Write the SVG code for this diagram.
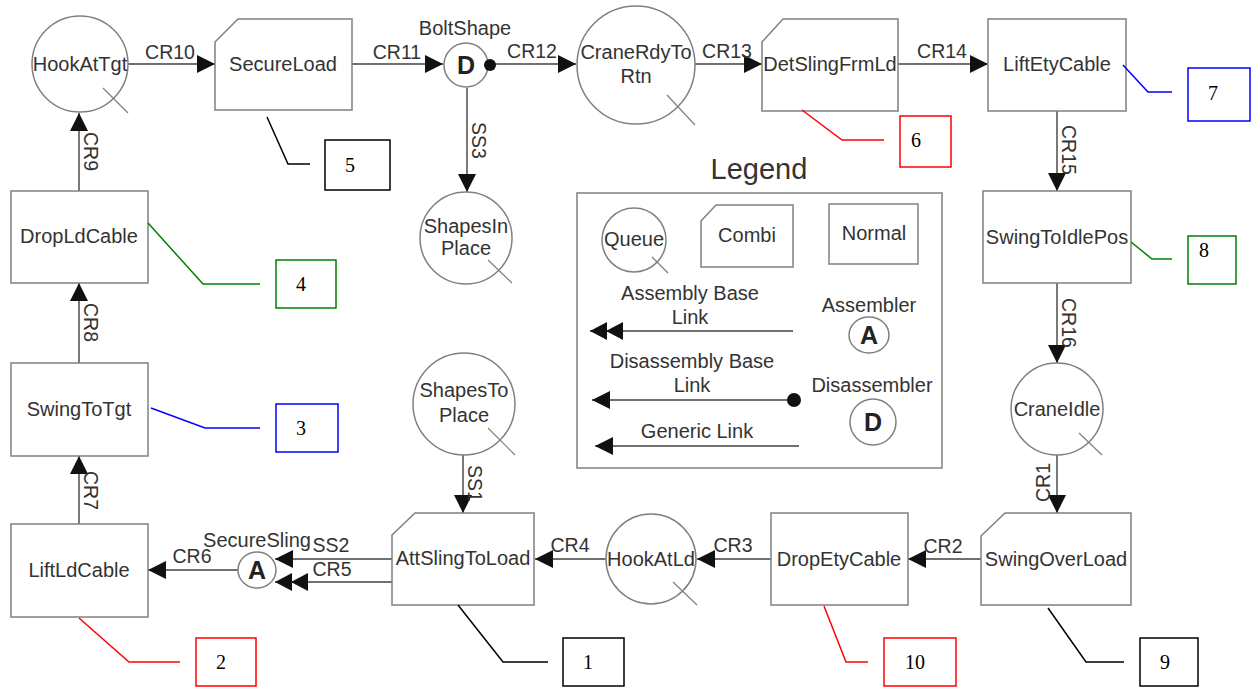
<svg xmlns="http://www.w3.org/2000/svg" width="1252" height="687" viewBox="0 0 1252 687">
<style>
.nd{fill:#fff;stroke:#808080;stroke-width:1.5}
.tk{stroke:#808080;stroke-width:1.2;fill:none}
.t{font-family:"Liberation Sans",Arial,sans-serif;font-size:20px;fill:#333;text-anchor:middle}
.el{font-family:"Liberation Sans",Arial,sans-serif;font-size:19.5px;fill:#333;text-anchor:middle}
.vl{font-family:"Liberation Sans",Arial,sans-serif;font-size:19.5px;fill:#333;text-anchor:start}
.b{font-family:"Liberation Sans",Arial,sans-serif;font-size:25px;font-weight:bold;fill:#222;text-anchor:middle}
.c{fill:none;stroke:#404040;stroke-width:1.4}
.ca{fill:none;stroke-width:1.5}
.num{font-family:"Liberation Serif","Times New Roman",serif;font-size:20px;fill:#000;text-anchor:middle}
</style>
<defs>
<marker id="arr" markerUnits="userSpaceOnUse" viewBox="0 0 18 18" refX="18" refY="9" markerWidth="18" markerHeight="18" orient="auto">
<path d="M0,0 L18,9 L0,18 Z" fill="#111"/>
</marker>
<marker id="arr2" markerUnits="userSpaceOnUse" viewBox="0 0 33 18" refX="33" refY="9" markerWidth="33" markerHeight="18" orient="auto">
<path d="M0,0 L17,9 L0,18 Z M16,0 L33,9 L16,18 Z" fill="#111"/>
</marker>
</defs>
<rect width="1252" height="687" fill="#fff"/>

<g id="connectors">
<path class="c" d="M128,64 L215,64" marker-end="url(#arr)"/>
<path class="c" d="M352,64 L443,64" marker-end="url(#arr)"/>
<path class="c" d="M488,64 L576,64" marker-end="url(#arr)"/>
<path class="c" d="M695,64 L762,64" marker-end="url(#arr)"/>
<path class="c" d="M898,64 L988,64" marker-end="url(#arr)"/>
<path class="c" d="M1057,111 L1057,191" marker-end="url(#arr)"/>
<path class="c" d="M1057,283 L1057,363" marker-end="url(#arr)"/>
<path class="c" d="M1057,455 L1057,513" marker-end="url(#arr)"/>
<path class="c" d="M981,559 L908,559" marker-end="url(#arr)"/>
<path class="c" d="M771,559 L697,559" marker-end="url(#arr)"/>
<path class="c" d="M606,559 L535,559" marker-end="url(#arr)"/>
<path class="c" d="M463,455 L463,513" marker-end="url(#arr)"/>
<path class="c" d="M392,559 L275,559" marker-end="url(#arr)"/>
<path class="c" d="M392,582 L275,582" marker-end="url(#arr2)"/>
<path class="c" d="M238,570 L148,570" marker-end="url(#arr)"/>
<path class="c" d="M79,524 L79,456" marker-end="url(#arr)"/>
<path class="c" d="M79,363 L79,283" marker-end="url(#arr)"/>
<path class="c" d="M79,191 L79,113" marker-end="url(#arr)"/>
<path class="c" d="M467,88 L467,192" marker-end="url(#arr)"/>
<text class="el" x="170" y="59">CR10</text>
<text class="el" x="397" y="59">CR11</text>
<text class="el" x="532" y="58">CR12</text>
<text class="el" x="727" y="58">CR13</text>
<text class="el" x="942" y="58">CR14</text>
<text class="el" x="943" y="553">CR2</text>
<text class="el" x="733" y="552">CR3</text>
<text class="el" x="570" y="552">CR4</text>
<text class="el" x="332" y="576">CR5</text>
<text class="el" x="331" y="552">SS2</text>
<text class="el" x="192" y="563">CR6</text>
<text class="vl" transform="translate(84,132) rotate(90)">CR9</text>
<text class="vl" transform="translate(84,303) rotate(90)">CR8</text>
<text class="vl" transform="translate(84,471) rotate(90)">CR7</text>
<text class="vl" transform="translate(1062,125) rotate(90)">CR15</text>
<text class="vl" transform="translate(1062,298) rotate(90)">CR16</text>
<text class="vl" transform="translate(1050,502) rotate(-90)">CR1</text>
<text class="vl" transform="translate(472,122) rotate(90)">SS3</text>
<text class="vl" transform="translate(468,465) rotate(90)">SS1</text>
</g>

<g id="HookAtTgt">
<circle class="nd" cx="80" cy="64" r="48"/>
<line class="tk" x1="103" y1="88" x2="128" y2="113"/>
<text class="t" x="80" y="71">HookAtTgt</text>
</g>
<g id="SecureLoad">
<path class="nd" d="M215,42 L238,19 L352,19 L352,110 L215,110 Z"/>
<text class="t" x="283" y="71">SecureLoad</text>
</g>
<g id="BoltShape">
<circle class="nd" cx="466" cy="65" r="22"/>
<circle cx="490" cy="65" r="6" fill="#111"/>
<text class="b" x="466" y="74">D</text>
<text class="t" x="465" y="35">BoltShape</text>
</g>
<g id="CraneRdyToRtn">
<circle class="nd" cx="636" cy="65" r="59"/>
<line class="tk" x1="667" y1="95" x2="695" y2="125"/>
<text class="t" x="636" y="59">CraneRdyTo</text>
<text class="t" x="636" y="83">Rtn</text>
</g>
<g id="DetSlingFrmLd">
<path class="nd" d="M762,42 L783,19 L898,19 L898,111 L762,111 Z"/>
<text class="t" x="830" y="71">DetSlingFrmLd</text>
</g>
<g id="LiftEtyCable">
<rect class="nd" x="988" y="19" width="138" height="92"/>
<text class="t" x="1057" y="71">LiftEtyCable</text>
</g>
<g id="ShapesInPlace">
<circle class="nd" cx="466" cy="238" r="46"/>
<line class="tk" x1="488" y1="260" x2="512" y2="283"/>
<text class="t" x="466" y="233">ShapesIn</text>
<text class="t" x="466" y="255">Place</text>
</g>
<g id="SwingToIdlePos">
<rect class="nd" x="983" y="191" width="148" height="92"/>
<text class="t" x="1057" y="244">SwingToIdlePos</text>
</g>
<g id="CraneIdle">
<circle class="nd" cx="1057" cy="409" r="46"/>
<line class="tk" x1="1079" y1="433" x2="1102" y2="455"/>
<text class="t" x="1057" y="416">CraneIdle</text>
</g>
<g id="SwingOverLoad">
<path class="nd" d="M981,536 L1005,513 L1131,513 L1131,605 L981,605 Z"/>
<text class="t" x="1056" y="566">SwingOverLoad</text>
</g>
<g id="DropEtyCable">
<rect class="nd" x="771" y="513" width="137" height="92"/>
<text class="t" x="839" y="566">DropEtyCable</text>
</g>
<g id="HookAtLd">
<circle class="nd" cx="651" cy="559" r="45"/>
<line class="tk" x1="673" y1="582" x2="697" y2="605"/>
<text class="t" x="651" y="566">HookAtLd</text>
</g>
<g id="AttSlingToLoad">
<path class="nd" d="M392,535 L415,513 L534,513 L534,605 L392,605 Z"/>
<text class="t" x="463" y="565">AttSlingToLoad</text>
</g>
<g id="ShapesToPlace">
<circle class="nd" cx="464" cy="404" r="51"/>
<line class="tk" x1="488" y1="428" x2="515" y2="455"/>
<text class="t" x="464" y="397">ShapesTo</text>
<text class="t" x="464" y="422">Place</text>
</g>
<g id="SecureSling">
<ellipse class="nd" cx="257" cy="570" rx="19" ry="18"/>
<text class="b" x="257" y="579">A</text>
<text class="t" x="257" y="547">SecureSling</text>
</g>
<g id="LiftLdCable">
<rect class="nd" x="11" y="524" width="137" height="93"/>
<text class="t" x="79" y="577">LiftLdCable</text>
</g>
<g id="SwingToTgt">
<rect class="nd" x="11" y="363" width="137" height="93"/>
<text class="t" x="79" y="416">SwingToTgt</text>
</g>
<g id="DropLdCable">
<rect class="nd" x="11" y="191" width="137" height="92"/>
<text class="t" x="79" y="243">DropLdCable</text>
</g>

<g id="callouts">
<polyline class="ca" stroke="#000" points="458,605 503,662 548,662"/>
<rect class="ca" stroke="#000" x="563" y="638" width="61" height="48"/>
<text class="num" x="588" y="669">1</text>
<polyline class="ca" stroke="#f00" points="79,618 129,662 180,662"/>
<rect class="ca" stroke="#f00" x="196" y="638" width="60" height="48"/>
<text class="num" x="221" y="669">2</text>
<polyline class="ca" stroke="#00f" points="151,408 205,428 260,428"/>
<rect class="ca" stroke="#00f" x="276" y="404" width="62" height="48"/>
<text class="num" x="301" y="435">3</text>
<polyline class="ca" stroke="#008000" points="148,223 203,284 260,284"/>
<rect class="ca" stroke="#008000" x="276" y="260" width="60" height="48"/>
<text class="num" x="301" y="291">4</text>
<polyline class="ca" stroke="#000" points="267,117 288,164 310,164"/>
<rect class="ca" stroke="#000" x="325" y="140" width="65" height="50"/>
<text class="num" x="350" y="172">5</text>
<polyline class="ca" stroke="#f00" points="802,110 842,140 884,140"/>
<rect class="ca" stroke="#f00" x="900" y="116" width="51" height="51"/>
<text class="num" x="916" y="147">6</text>
<polyline class="ca" stroke="#00f" points="1123,65 1148,92 1172,92"/>
<rect class="ca" stroke="#00f" x="1188" y="68" width="62" height="53"/>
<text class="num" x="1213" y="100">7</text>
<polyline class="ca" stroke="#008000" points="1131,242 1152,259 1172,259"/>
<rect class="ca" stroke="#008000" x="1188" y="236" width="48" height="48"/>
<text class="num" x="1204" y="257">8</text>
<polyline class="ca" stroke="#000" points="1048,608 1086,662 1124,662"/>
<rect class="ca" stroke="#000" x="1140" y="638" width="58" height="48"/>
<text class="num" x="1165" y="669">9</text>
<polyline class="ca" stroke="#f00" points="824,606 846,662 868,662"/>
<rect class="ca" stroke="#f00" x="884" y="638" width="72" height="48"/>
<text class="num" x="915" y="669">10</text>
</g>

<g id="legend">
<text class="t" style="font-size:29px" x="759" y="179">Legend</text>
<rect class="nd" x="577" y="193" width="365" height="275"/>
<circle class="nd" cx="634" cy="240" r="32"/>
<line class="tk" x1="652" y1="257" x2="668" y2="273"/>
<text class="t" x="634" y="246">Queue</text>
<path class="nd" d="M701,221 L716,205 L793,205 L793,267 L701,267 Z"/>
<text class="t" x="747" y="242">Combi</text>
<rect class="nd" x="829" y="204" width="89" height="60"/>
<text class="t" x="874" y="240">Normal</text>
<text class="t" x="690" y="300">Assembly Base</text>
<text class="t" x="690" y="324">Link</text>
<path class="c" d="M793,331 L590,331" marker-end="url(#arr2)"/>
<text class="t" x="869" y="312">Assembler</text>
<ellipse class="nd" cx="869" cy="335" rx="20" ry="18"/>
<text class="b" x="869" y="344">A</text>
<text class="t" x="692" y="368">Disassembly Base</text>
<text class="t" x="692" y="392">Link</text>
<path class="c" d="M794,400 L592,400" marker-end="url(#arr)"/>
<circle cx="794" cy="400" r="7" fill="#111"/>
<text class="t" x="872" y="392">Disassembler</text>
<circle class="nd" cx="873" cy="422" r="23"/>
<text class="b" x="873" y="431">D</text>
<text class="t" x="697" y="438">Generic Link</text>
<path class="c" d="M799,446 L595,446" marker-end="url(#arr)"/>
</g>
</svg>
